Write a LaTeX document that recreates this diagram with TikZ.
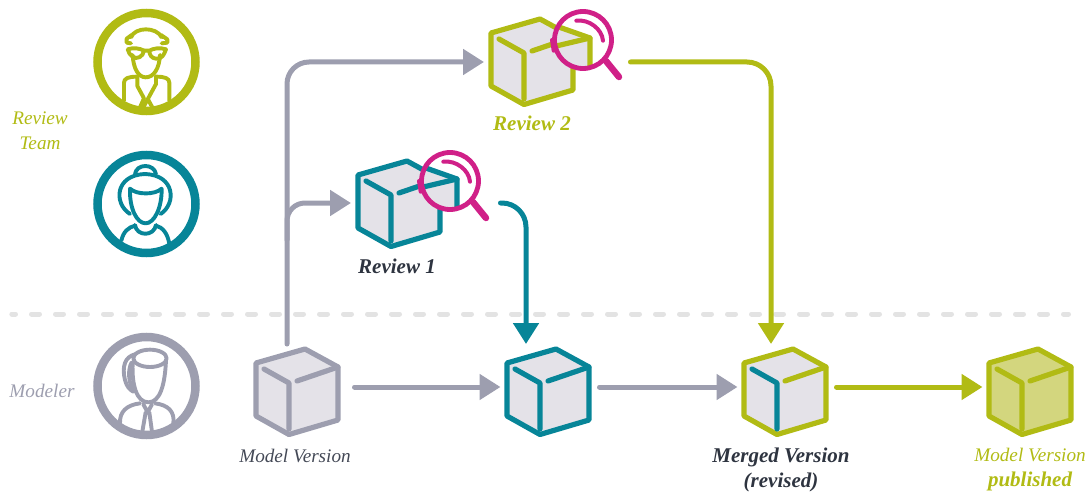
\documentclass[tikz,border=0pt]{standalone}
\usepackage{fontspec}
\setmainfont{Liberation Serif}
\usetikzlibrary{arrows.meta,calc}
\definecolor{olive}{HTML}{B1BB14}
\definecolor{teal}{HTML}{078598}
\definecolor{slate}{HTML}{9D9EAF}
\definecolor{lensc}{HTML}{D02088}
\definecolor{cubefill}{HTML}{E4E2E8}
\definecolor{pubfill}{HTML}{D3D67E}
\definecolor{inkc}{HTML}{2E3440}
\definecolor{dashc}{HTML}{E3E3E3}
\tikzset{
  conn/.style={line width=5pt,line cap=round,line join=round,-{Triangle[length=21pt,width=25pt]}},
  cubeline/.style={line width=5.2pt,line cap=round,line join=round},
  icon/.style={line width=3.9pt,line cap=round,line join=round},
  ring/.style={line width=8.5pt},
  box/.style={inner sep=0pt,outer sep=0pt,minimum width=99pt,minimum height=86pt},
  revbox/.style={inner sep=0pt,outer sep=0pt,minimum height=60pt},
  lab/.style={font=\fontsize{19.2}{25}\selectfont\itshape,align=center,inner sep=0pt},
  blab/.style={font=\fontsize{21}{25}\selectfont\itshape\bfseries,align=center,inner sep=0pt}
}
\newcommand{\mycube}[5]{%
  \begin{scope}[shift={(#1,#2)}]
    \fill[#4] (16,-34)--(49,-16)--(49,37)--(0,51.5)--(-33,33)--(-33,-20)--cycle;
    \draw[cubeline,#3] (16,-34)--(49,-16)--(49,37)--(0,51.5)--(-33,33)--(-33,-20)--cycle;
    \draw[cubeline,#3] (8,-2)--(49,-16);
    \draw[cubeline,#5] (-25,-14)--(0,0)--(0,46);
  \end{scope}}
\newcommand{\mylens}[3]{%
  \begin{scope}[shift={(#1,#2)}]
    \fill[white] (60,-14) circle[radius=28];
    \begin{scope}
      \clip (60,-14) circle[radius=28];
      \fill[cubefill] (16,-34)--(67,-16)--(67,60)--(-10,60)--cycle;
      \draw[cubeline,#3] (16,-34)--(67,-16)--(67,60);
      \draw[cubeline,#3] (8,-2)--(67,-16);
    \end{scope}
    \draw[line width=4.8pt,lensc] (60,-14) circle[radius=28.5];
    \draw[line width=6.5pt,line cap=round,lensc] (83,7)--(96,23);
    \draw[line width=4pt,line cap=round,lensc] (53.3,-33.3) .. controls (66,-35) and (79,-25) .. (80,-13.3);
    \draw[line width=4pt,line cap=round,lensc] (29,-14)--(30.7,-3.3);
  \end{scope}}
\begin{document}
\begin{tikzpicture}[x=1pt,y=-1pt]
\useasboundingbox (0,0) rectangle (1092,492);
\draw[line width=5pt,dashc,line cap=round,dash pattern=on 8pt off 16pt,dash phase=4.3pt] (11.8,314)--(1068.5,314);

% people
\node[draw=olive,ring,circle,inner sep=0pt,minimum size=98pt,outer sep=0pt] (p1) at (146.5,62) {};
\node[draw=teal,ring,circle,inner sep=0pt,minimum size=98pt,outer sep=0pt] (p2) at (146.5,204) {};
\node[draw=slate,ring,circle,inner sep=0pt,minimum size=98pt,outer sep=0pt] (p3) at (146.5,386) {};

\begin{scope}[x=0.3333pt,y=-0.3333pt,shift={(80pt,0pt)},olive]
  \draw[icon] (158,165) .. controls (160,205) and (175,232) .. (197,232) .. controls (222,232) and (238,205) .. (240,165);
  \draw[icon] (153,112) .. controls (165,80) and (230,80) .. (245,112);
  \draw[icon] (155,105)--(140,116)--(140,128)--(153,130) (243,105)--(262,118)--(262,128)--(245,130);
  \draw[icon] (143,148) .. controls (160,142) and (180,145) .. (192,152) .. controls (190,170) and (170,180) .. (158,170) .. controls (150,165) and (146,158) .. (143,148);
  \draw[icon] (192,152)--(208,152) .. controls (220,145) and (240,142) .. (258,148) .. controls (252,165) and (245,178) .. (228,176) .. controls (215,175) and (208,165) .. (208,152);
  \draw[icon] (132,302)--(132,248) .. controls (132,235) and (145,230) .. (172,230)--(172,258)--(192,295)--(180,322);
  \draw[icon] (268,302)--(268,248) .. controls (268,235) and (255,230) .. (228,230)--(228,252)--(190,322);
  \draw[icon] (205,300)--(217,322);
\end{scope}

\begin{scope}[x=0.3333pt,y=-0.3333pt,shift={(80pt,-140pt)},teal]
  \draw[icon] (165,102) .. controls (170,70) and (222,70) .. (228,102);
  \draw[icon] (150,222) .. controls (100,190) and (105,105) .. (195,102) .. controls (285,105) and (290,190) .. (242,222);
  \draw[icon] (150,146) .. controls (148,205) and (170,250) .. (197,250) .. controls (222,250) and (246,205) .. (245,146);
  \draw[icon] (150,146) .. controls (170,165) and (225,165) .. (245,146);
  \draw[icon] (165,255) .. controls (170,290) and (222,290) .. (228,255);
  \draw[icon] (124,302) .. controls (130,275) and (145,262) .. (165,257);
  \draw[icon] (228,257) .. controls (248,262) and (263,280) .. (268,312);
\end{scope}

\begin{scope}[x=0.3333pt,y=-0.3333pt,shift={(80pt,-325pt)},slate]
  \draw[icon] (210,100) ellipse[x radius=50,y radius=26];
  \draw[icon] (165,88) .. controls (135,95) and (125,125) .. (135,165) .. controls (140,185) and (150,195) .. (160,200);
  \draw[icon] (155,112) .. controls (143,135) and (145,170) .. (160,200);
  \draw[icon] (158,115) .. controls (155,180) and (170,232) .. (205,232) .. controls (240,232) and (255,180) .. (258,105);
  \draw[icon] (120,296) .. controls (118,260) and (140,240) .. (180,235);
  \draw[icon] (225,235) .. controls (265,240) and (285,260) .. (280,296);
  \draw[icon] (190,238)--(203,262)--(216,238);
  \draw[icon] (197,262)--(187,320) (208,262)--(216,320);
\end{scope}

% cubes
\mycube{289}{383}{slate}{cubefill}{slate}
\mycube{540}{383}{teal}{cubefill}{teal}
\mycube{777}{383}{olive}{cubefill}{teal}
\mycube{1022}{383}{olive}{pubfill}{olive}
\mycube{391}{195}{teal}{cubefill}{teal}
\mylens{390}{195}{teal}
\mycube{524}{53}{olive}{cubefill}{olive}
\mylens{523}{54}{olive}

% anchors of the connectors
\node[box] (model) at (299,387) {};
\node[box] (plain) at (550,387) {};
\node[box] (merged) at (787,387) {};
\node[box] (pub) at (1032,387) {};
\node[revbox,minimum width=149.5pt] (rev1) at (425.75,203) {};
\node[revbox,minimum width=146.5pt] (rev2) at (557.25,62) {};
\coordinate (trunk) at ($(model.north)+(-12,0)$);
\coordinate (fork) at ($(model.north)+(-12,-104)$);
\coordinate (plainin) at ($(plain.north)+(-24,0)$);
\coordinate (mergedin) at ($(merged.north)+(-16,0)$);
\coordinate (modelout) at ($(model.east)+(6,0)$);

% connectors
\draw[conn,slate,rounded corners=22pt] (trunk) |- (rev2.west);
\draw[conn,slate,rounded corners=18pt] (fork) |- (rev1.west);
\draw[conn,slate] (modelout) -- (plain.west);
\draw[conn,slate] (plain.east) -- (merged.west);
\draw[conn,olive] (merged.east) -- (pub.west);
\draw[conn,teal,rounded corners=24pt] (rev1.east) -| (plainin);
\draw[conn,olive,rounded corners=24pt] (rev2.east) -| (mergedin);

% labels
\node[lab,olive] (tteam) at (40,131) {Review\\Team};
\node[lab,slate] (tmod) at (42,391) {Modeler};
\node[lab,inkc!80!slate] (tmv) at (295,456) {Model Version};
\node[blab,inkc] (tr1) at (397,266) {Review 1};
\node[blab,olive] (tr2) at (532,123) {Review 2};
\node[blab,inkc] (tmerged) at (781,470) {Merged Version\\(revised)};
\node[lab,olive] (tpub) at (1030,470) {Model Version\\{\fontsize{21}{25}\selectfont\bfseries published}};
\end{tikzpicture}
\end{document}
